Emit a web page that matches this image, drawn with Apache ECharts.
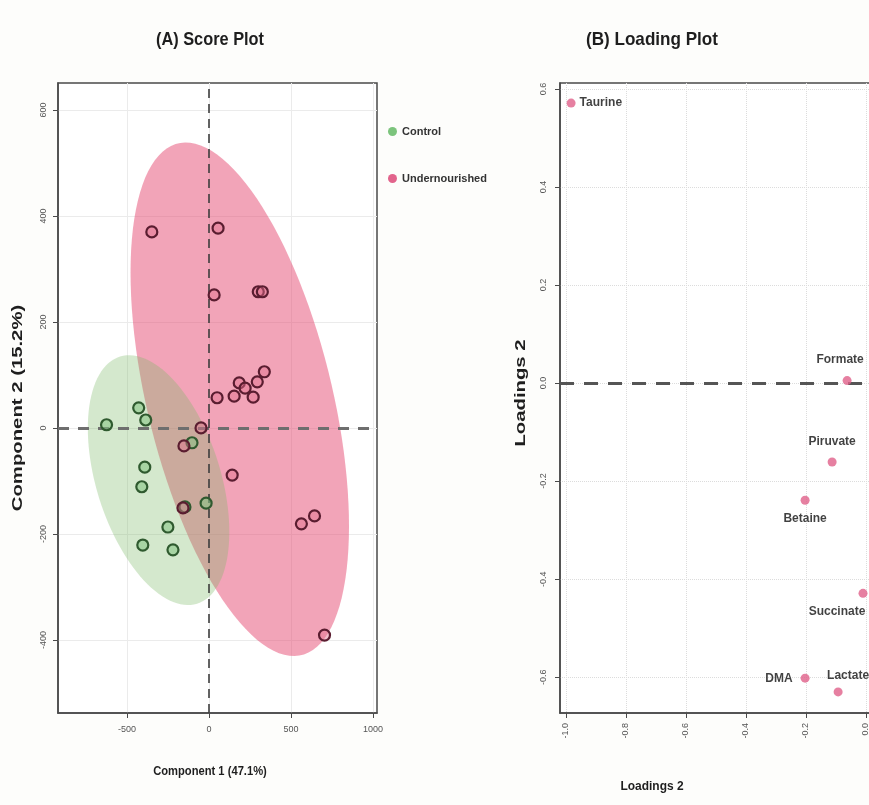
<!DOCTYPE html>
<html>
<head>
<meta charset="utf-8">
<script src="https://cdn.jsdelivr.net/npm/echarts@6/dist/echarts.min.js"></script>
<style>
  html, body { margin: 0; padding: 0; background: #fdfdfb; overflow: hidden; }
  #chart { width: 900px; height: 805px; }
</style>
</head>
<body>
<div id="chart"></div>
<script>
// ---- Score plot: PLS-DA component scores per group ----
const controlX = [-625, -429, -386, -392, -410, -104, -18, -251, -404, -220, -147];
const controlY = [6, 38, 15, -74, -111, -28, -142, -187, -221, -230, -149];
const underX = [-349, 55, 31, 300, 325, 337, 294, 184, 220, 153, 269, 49, -49, -153, 141, -159, 563, 643, 704];
const underY = [370, 377, 251, 257, 257, 106, 87, 85, 75, 60, 58, 57, 0, -34, -89, -151, -181, -166, -391];

// ---- Loading plot: metabolite loadings ----
const metabolites = ['Taurine', 'Formate', 'Piruvate', 'Betaine', 'Succinate', 'DMA', 'Lactate'];
const loadingX = [-0.983, -0.063, -0.113, -0.203, -0.010, -0.203, -0.093];
const loadingY = [0.571, 0.005, -0.161, -0.239, -0.429, -0.602, -0.630];

// ---- Tick values ----
const scoreXTicks = [-500, 0, 500, 1000];
const scoreYTicks = [-400, -200, 0, 200, 400, 600];
const loadXTicks = [-1.0, -0.8, -0.6, -0.4, -0.2, 0.0];
const loadYTicks = [-0.6, -0.4, -0.2, 0.0, 0.2, 0.4, 0.6];

const groupNames = ['Control', 'Undernourished'];

const SANS = "'Liberation Sans', Arial, sans-serif";

// 95% normal confidence ellipse from the sample mean and covariance
function confidenceEllipse(xs, ys, level, steps) {
  const n = xs.length;
  const mx = xs.reduce((a, b) => a + b, 0) / n;
  const my = ys.reduce((a, b) => a + b, 0) / n;
  let sxx = 0, syy = 0, sxy = 0;
  for (let i = 0; i < n; i++) {
    const dx = xs[i] - mx, dy = ys[i] - my;
    sxx += dx * dx; syy += dy * dy; sxy += dx * dy;
  }
  sxx /= (n - 1); syy /= (n - 1); sxy /= (n - 1);
  // Cholesky factor of the covariance matrix
  const l11 = Math.sqrt(sxx);
  const l21 = sxy / l11;
  const l22 = Math.sqrt(syy - l21 * l21);
  const r = Math.sqrt(-2 * Math.log(1 - level)); // chi-square quantile, 2 df
  const pts = [];
  for (let k = 0; k <= steps; k++) {
    const t = (2 * Math.PI * k) / steps;
    const c = Math.cos(t), s = Math.sin(t);
    pts.push([mx + r * l11 * c, my + r * (l21 * c + l22 * s)]);
  }
  return pts;
}

const controlEllipse = confidenceEllipse(controlX, controlY, 0.95, 120);
const underEllipse = confidenceEllipse(underX, underY, 0.95, 120);

function zip(xs, ys) { return xs.map((x, i) => [x, ys[i]]); }

function ellipseSeries(pts, fill, z) {
  return {
    type: 'custom', xAxisIndex: 0, yAxisIndex: 0, silent: true, z: z,
    data: [[0, 0]],
    renderItem: (params, api) => ({
      type: 'polygon',
      shape: { points: pts.map(p => api.coord(p)) },
      style: { fill: fill }
    })
  };
}

const tickStyle = { show: true, length: 5, lineStyle: { color: '#4a4a4a', width: 1 } };
const axisLineStyle = { show: true, onZero: false, lineStyle: { color: '#4a4a4a', width: 1.5 } };
const tickLabel = { color: '#555', fontSize: 9, fontFamily: SANS };

// horizontal and vertical captions drawn as text graphics
function caption(text, x, y, size, vertical, stretch) {
  return {
    type: 'text', x: x, y: y,
    rotation: vertical ? Math.PI / 2 : 0,
    scaleX: stretch,
    style: { text: text, align: 'center', verticalAlign: 'middle',
      font: 'bold ' + size + 'px ' + SANS, fill: '#1e1e1e' }
  };
}

const chart = echarts.init(document.getElementById('chart'), null, { renderer: 'canvas' });

const loadLabelPlacement = {
  Taurine: { position: 'right', distance: 4 },
  Formate: { position: 'top', distance: 10, offset: [-7, 0] },
  Piruvate: { position: 'top', distance: 10 },
  Betaine: { position: 'bottom', distance: 8 },
  Succinate: { position: 'bottom', distance: 8, offset: [-26, 0] },
  DMA: { position: 'left', distance: 8 },
  Lactate: { position: 'top', distance: 6, offset: [10, 0] }
};

const option = {
  backgroundColor: '#fdfdfb',
  animation: false,
  grid: [
    { left: 58, top: 83, width: 319, height: 630, show: true, backgroundColor: '#ffffff',
      borderColor: '#4a4a4a', borderWidth: 1.5 },
    { left: 560, top: 83, width: 340, height: 630, show: true, backgroundColor: '#ffffff',
      borderColor: '#4a4a4a', borderWidth: 1.5 }
  ],
  xAxis: [
    { type: 'value', gridIndex: 0, min: -921, max: 1024,
      axisLine: axisLineStyle,
      axisTick: Object.assign({ customValues: scoreXTicks }, tickStyle),
      axisLabel: Object.assign({ customValues: scoreXTicks, margin: 12,
        formatter: v => String(v) }, tickLabel),
      splitLine: { show: true, lineStyle: { color: '#ebebeb', width: 1 } } },
    { type: 'value', gridIndex: 1, min: -1.02, max: 0.1133,
      axisLine: axisLineStyle,
      axisTick: Object.assign({ customValues: loadXTicks }, tickStyle),
      axisLabel: Object.assign({ customValues: loadXTicks, margin: 10, rotate: 90,
        formatter: v => v.toFixed(1) }, tickLabel),
      splitLine: { show: true, lineStyle: { color: '#dcdcdc', width: 1, type: 'dotted' } } }
  ],
  yAxis: [
    { type: 'value', gridIndex: 0, min: -538, max: 651,
      axisLine: axisLineStyle,
      axisTick: Object.assign({ customValues: scoreYTicks }, tickStyle),
      axisLabel: Object.assign({ customValues: scoreYTicks, margin: 10, rotate: 90,
        formatter: v => String(v) }, tickLabel),
      splitLine: { show: true, lineStyle: { color: '#ebebeb', width: 1 } } },
    { type: 'value', gridIndex: 1, min: -0.673, max: 0.612,
      axisLine: axisLineStyle,
      axisTick: Object.assign({ customValues: loadYTicks }, tickStyle),
      axisLabel: Object.assign({ customValues: loadYTicks, margin: 12, rotate: 90,
        formatter: v => v.toFixed(1) }, tickLabel),
      splitLine: { show: true, lineStyle: { color: '#dcdcdc', width: 1, type: 'dotted' } } }
  ],
  legend: {
    orient: 'vertical', left: 383, top: 121, itemGap: 36,
    itemWidth: 9, itemHeight: 9,
    textStyle: { fontFamily: SANS, fontSize: 11, fontWeight: 'bold', color: '#333' },
    data: [
      { name: groupNames[0], icon: 'circle', itemStyle: { color: '#7cc47c', borderWidth: 0 } },
      { name: groupNames[1], icon: 'circle', itemStyle: { color: '#e2648c', borderWidth: 0 } }
    ]
  },
  graphic: [
    caption('(A) Score Plot', 210, 40, 19, false, 0.86),
    caption('(B) Loading Plot', 652, 40, 19, false, 0.9),
    caption('Component 1 (47.1%)', 210, 771, 13, false, 0.86),
    caption('Component 2 (15.2%)', 18, 408, 14, true, 1.45),
    caption('Loadings 2', 652, 786, 13, false, 0.92),
    caption('Loadings 2', 521, 393, 14, true, 1.45)
  ],
  series: [
    ellipseSeries(underEllipse, 'rgba(230, 80, 118, 0.52)', 1),
    ellipseSeries(controlEllipse, 'rgba(120, 185, 100, 0.32)', 2),
    {
      name: groupNames[0], type: 'scatter', xAxisIndex: 0, yAxisIndex: 0, z: 5,
      symbol: 'circle', symbolSize: 11,
      itemStyle: { color: 'rgba(130, 195, 130, 0.55)', borderColor: '#2f5a2f', borderWidth: 2.2, opacity: 1 },
      data: zip(controlX, controlY)
    },
    {
      name: groupNames[1], type: 'scatter', xAxisIndex: 0, yAxisIndex: 0, z: 6,
      symbol: 'circle', symbolSize: 11,
      itemStyle: { color: 'rgba(225, 110, 140, 0.45)', borderColor: '#5a1d30', borderWidth: 2.2, opacity: 1 },
      data: zip(underX, underY),
      markLine: {
        silent: true, symbol: 'none', label: { show: false },
        data: [
          { yAxis: 0, lineStyle: { color: '#6e6e6e', width: 3, type: [11, 9] } },
          { xAxis: 0, lineStyle: { color: '#3e3e3e', width: 1.6, type: [9, 6] } }
        ]
      }
    },
    {
      name: 'Loadings', type: 'scatter', xAxisIndex: 1, yAxisIndex: 1, z: 5,
      symbol: 'circle', symbolSize: 9,
      itemStyle: { color: '#e0608a' },
      label: { show: true, formatter: p => p.name, fontFamily: SANS, fontSize: 12,
        fontWeight: 'bold', color: '#111111', textBorderWidth: 0 },
      data: metabolites.map((m, i) => ({ name: m, value: [loadingX[i], loadingY[i]],
        label: loadLabelPlacement[m] })),
      markLine: {
        silent: true, symbol: 'none', label: { show: false },
        data: [ { yAxis: 0, lineStyle: { color: '#555555', width: 3, type: [14, 10] } } ]
      }
    }
  ]
};

chart.setOption(option);
</script>
</body>
</html>
